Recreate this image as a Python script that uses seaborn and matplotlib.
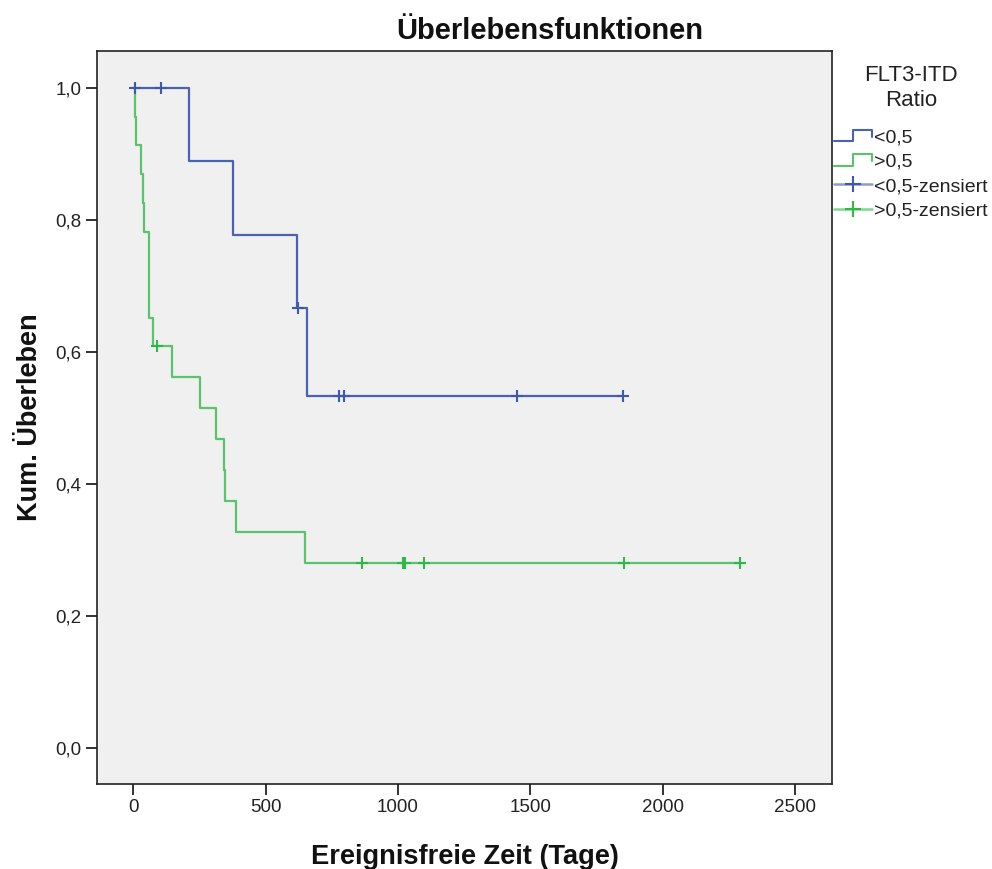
import numpy as np
import pandas as pd
import matplotlib
matplotlib.use("Agg")
import matplotlib.pyplot as plt
import seaborn as sns
from matplotlib.lines import Line2D
from matplotlib.legend_handler import HandlerBase

# ---- data ----
group_names = ["<0,5", ">0,5"]
low_times = [5, 104, 210, 377, 620, 624, 655, 778, 796, 1451, 1849]
low_events = [0, 0, 1, 1, 1, 0, 1, 0, 0, 0, 0]
high_times = [6, 10, 28, 38, 40, 58, 59, 60, 73, 88, 145, 252, 312, 344, 348,
              387, 648, 863, 1020, 1027, 1098, 1855, 2292]
high_events = [1, 1, 1, 1, 1, 1, 1, 1, 1, 0, 1, 1, 1, 1, 1, 1, 1, 0, 0, 0, 0, 0, 0]
x_ticks = [0, 500, 1000, 1500, 2000, 2500]
y_ticks = [0.0, 0.2, 0.4, 0.6, 0.8, 1.0]

line_colors = {"<0,5": "#4a62b2", ">0,5": "#5ac46a"}
mark_colors = {"<0,5": "#3e58ac", ">0,5": "#2eb848"}


def kaplan_meier(times, events):
    t = np.asarray(times, float)
    e = np.asarray(events, int)
    order = np.argsort(t, kind="stable")
    t, e = t[order], e[order]
    n = len(t)
    s = 1.0
    step_t, step_s = [0.0], [1.0]
    cens_t, cens_s = [], []
    at_risk = n
    for ti, ei in zip(t, e):
        if ei == 1:
            s = s * (at_risk - 1) / at_risk
            step_t.append(ti)
            step_s.append(s)
        else:
            cens_t.append(ti)
            cens_s.append(s)
        at_risk -= 1
    step_t.append(t.max())
    step_s.append(s)
    return step_t, step_s, cens_t, cens_s


curve_rows, cens_rows = [], []
for name, tt, ee in [("<0,5", low_times, low_events), (">0,5", high_times, high_events)]:
    st, ss, ct, cs = kaplan_meier(tt, ee)
    curve_rows += [{"group": name, "t": a, "s": b} for a, b in zip(st, ss)]
    cens_rows += [{"group": name, "t": a, "s": b} for a, b in zip(ct, cs)]
curves = pd.DataFrame(curve_rows)
cens = pd.DataFrame(cens_rows)

sns.set_theme(style="white")
plt.rcParams["font.family"] = ["Liberation Sans", "DejaVu Sans"]

fig = plt.figure(figsize=(9.92, 8.69), dpi=100)
ax = fig.add_axes([97 / 992, 1 - 784 / 869, (832 - 97) / 992, (784 - 51) / 869])
ax.set_facecolor("#f0f0f0")

for name in group_names:
    sub = curves[curves.group == name]
    sns.lineplot(data=sub, x="t", y="s", ax=ax, color=line_colors[name],
                 drawstyle="steps-post", estimator=None, sort=False,
                 linewidth=1.6, legend=False)
    csub = cens[cens.group == name]
    sns.scatterplot(data=csub, x="t", y="s", ax=ax, marker="+", s=85,
                    color=mark_colors[name], linewidth=1.5, legend=False, zorder=5)

ax.set_xlim(-137, 2639)
ax.set_ylim(-0.054, 1.056)
ax.set_xticks(x_ticks)
ax.set_xticklabels([str(v) for v in x_ticks])
ax.set_yticks(y_ticks)
ax.set_yticklabels([f"{v:.1f}".replace(".", ",") for v in y_ticks])
ax.tick_params(axis="both", which="major", bottom=True, left=True, direction="out",
               length=8, width=1.3, color="#222222",
               labelsize=13.5, labelcolor="#222222", pad=3)
for sp in ax.spines.values():
    sp.set_color("#222222")
    sp.set_linewidth(1.2)

fig.text(550 / 992, 1 - 31 / 869, "Überlebensfunktionen", fontsize=21, fontweight="bold",
         ha="center", va="center", color="#111111")
ax.set_xlabel("Ereignisfreie Zeit (Tage)", fontsize=19.6, fontweight="bold", labelpad=20, color="#111111")
ax.set_ylabel("Kum. Überleben", fontsize=19.5, fontweight="bold", labelpad=9, color="#111111")


class StepHandler(HandlerBase):
    def create_artists(self, legend, orig_handle, xdescent, ydescent, width, height, fontsize, trans):
        x0, y0 = -xdescent, -ydescent
        xs = [x0, x0 + 0.5 * width, x0 + 0.5 * width, x0 + width, x0 + width]
        ys = [y0 + 0.1 * height, y0 + 0.1 * height, y0 + 0.95 * height, y0 + 0.95 * height, y0 + 0.45 * height]
        ln = Line2D(xs, ys, color=orig_handle.get_color(), lw=1.5)
        ln.set_transform(trans)
        return [ln]


class CensHandler(HandlerBase):
    def create_artists(self, legend, orig_handle, xdescent, ydescent, width, height, fontsize, trans):
        x0, y0 = -xdescent, -ydescent
        ym = y0 + 0.5 * height
        ln = Line2D([x0, x0 + width], [ym, ym], color=orig_handle.get_color(), lw=1.8, alpha=0.6)
        mk = Line2D([x0 + 0.5 * width], [ym], color=orig_handle.get_color(), marker="+",
                    markersize=11, markeredgewidth=1.5, linestyle="none")
        ln.set_transform(trans)
        mk.set_transform(trans)
        return [ln, mk]


class StepKey(Line2D):
    pass


class CensKey(Line2D):
    pass


handles = [StepKey([], [], color=line_colors["<0,5"]),
           StepKey([], [], color=line_colors[">0,5"]),
           CensKey([], [], color=mark_colors["<0,5"]),
           CensKey([], [], color=mark_colors[">0,5"])]
labels = ["<0,5", ">0,5", "<0,5-zensiert", ">0,5-zensiert"]
leg = fig.legend(handles, labels, loc="upper left", bbox_to_anchor=(834 / 992, 1 - 65 / 869),
                 frameon=False, fontsize=14, title="FLT3-ITD\nRatio", title_fontsize=16,
                 handlelength=1.95, handletextpad=0.1, labelspacing=0.34, borderpad=0.0,
                 borderaxespad=0.0,
                 handler_map={StepKey: StepHandler(), CensKey: CensHandler()})
leg.get_title().set_multialignment("center")
leg.get_title().set_linespacing(1.25)
leg._legend_box.align = "center"
leg._legend_box.sep = 13
for t in leg.get_texts():
    t.set_color("#222222")
leg.get_title().set_color("#222222")

fig.savefig("out.png", dpi=100, facecolor="white")
